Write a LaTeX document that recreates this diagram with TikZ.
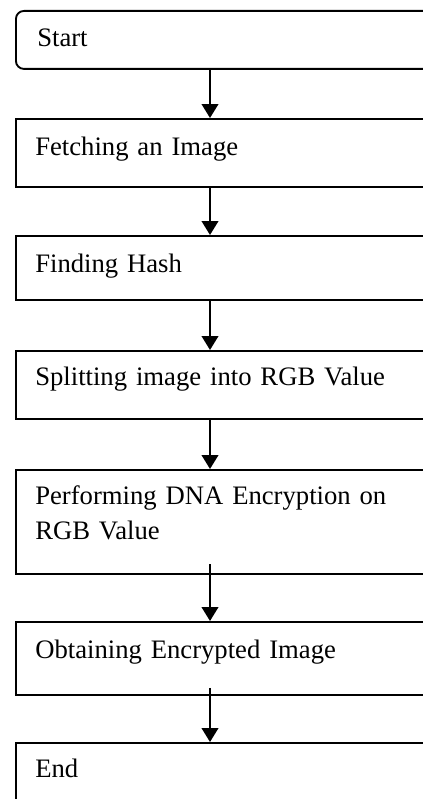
\documentclass[tikz,border=0pt]{standalone}
\usepackage{fontspec}
\setmainfont{Liberation Serif}
\usetikzlibrary{arrows.meta,calc}
\protected\def\stagefont{\fontsize{20}{26.25}\selectfont\spaceskip=0.18em\relax}

\begin{document}
\begin{tikzpicture}[x=0.75pt,y=-0.75pt]
  % Local definitions
  \def\px{0.75pt}

  % Styles
  \tikzstyle{stage}=[draw,line width=1.4pt,rectangle,inner sep=0pt,anchor=north west,minimum width=440*\px]
  \tikzstyle{stage text}=[anchor=base west,inner sep=0pt,align=left,text width=380*\px,font=\stagefont]
  \tikzstyle{flow}=[line width=1.4pt,-{Triangle[width=12.5pt,length=10.5pt]}]

  % Page
  \useasboundingbox (0,0) rectangle (423,799);
  \fill[white] (0,0) rectangle (423,799);
  \clip (0,0) rectangle (423,799);

  \coordinate (axis) at (210,0);

  % Boxes
  \node[stage,rounded corners=6pt,minimum height=58*\px] (start) at (15,10) {};
  \node[stage,minimum height=68*\px] (fetch) at (15,118) {};
  \node[stage,minimum height=64*\px] (hash) at (15,235) {};
  \node[stage,minimum height=68*\px] (split) at (15,350) {};
  \node[stage,minimum height=104*\px] (dna) at (15,469) {};
  \node[stage,minimum height=73*\px] (obtain) at (15,621) {};
  \node[stage,minimum height=90*\px] (stop) at (15,742) {};

  % Texts
  \node[stage text] (start text) at ($(start.north west)+(22,37)$) {Start};
  \node[stage text] (fetch text) at ($(fetch.north west)+(20,37)$) {Fetching an Image};
  \node[stage text] (hash text) at ($(hash.north west)+(20,37)$) {Finding Hash};
  \node[stage text] (split text) at ($(split.north west)+(20,35)$) {Splitting image into RGB Value};
  \node[stage text] (dna text) at ($(dna.north west)+(20,35)$) {Performing DNA Encryption on\\RGB Value};
  \node[stage text] (obtain text) at ($(obtain.north west)+(20,37)$) {Obtaining Encrypted Image};
  \node[stage text] (stop text) at ($(stop.north west)+(20,35)$) {End};

  % Arrows
  \draw[flow] (start.south -| axis) -- (fetch.north -| axis);
  \draw[flow] (fetch.south -| axis) -- (hash.north -| axis);
  \draw[flow] (hash.south -| axis) -- (split.north -| axis);
  \draw[flow] (split.south -| axis) -- (dna.north -| axis);
  \draw[flow,shorten <=-8pt] (dna.south -| axis) -- (obtain.north -| axis);
  \draw[flow,shorten <=-6pt] (obtain.south -| axis) -- (stop.north -| axis);

\end{tikzpicture}
\end{document}
